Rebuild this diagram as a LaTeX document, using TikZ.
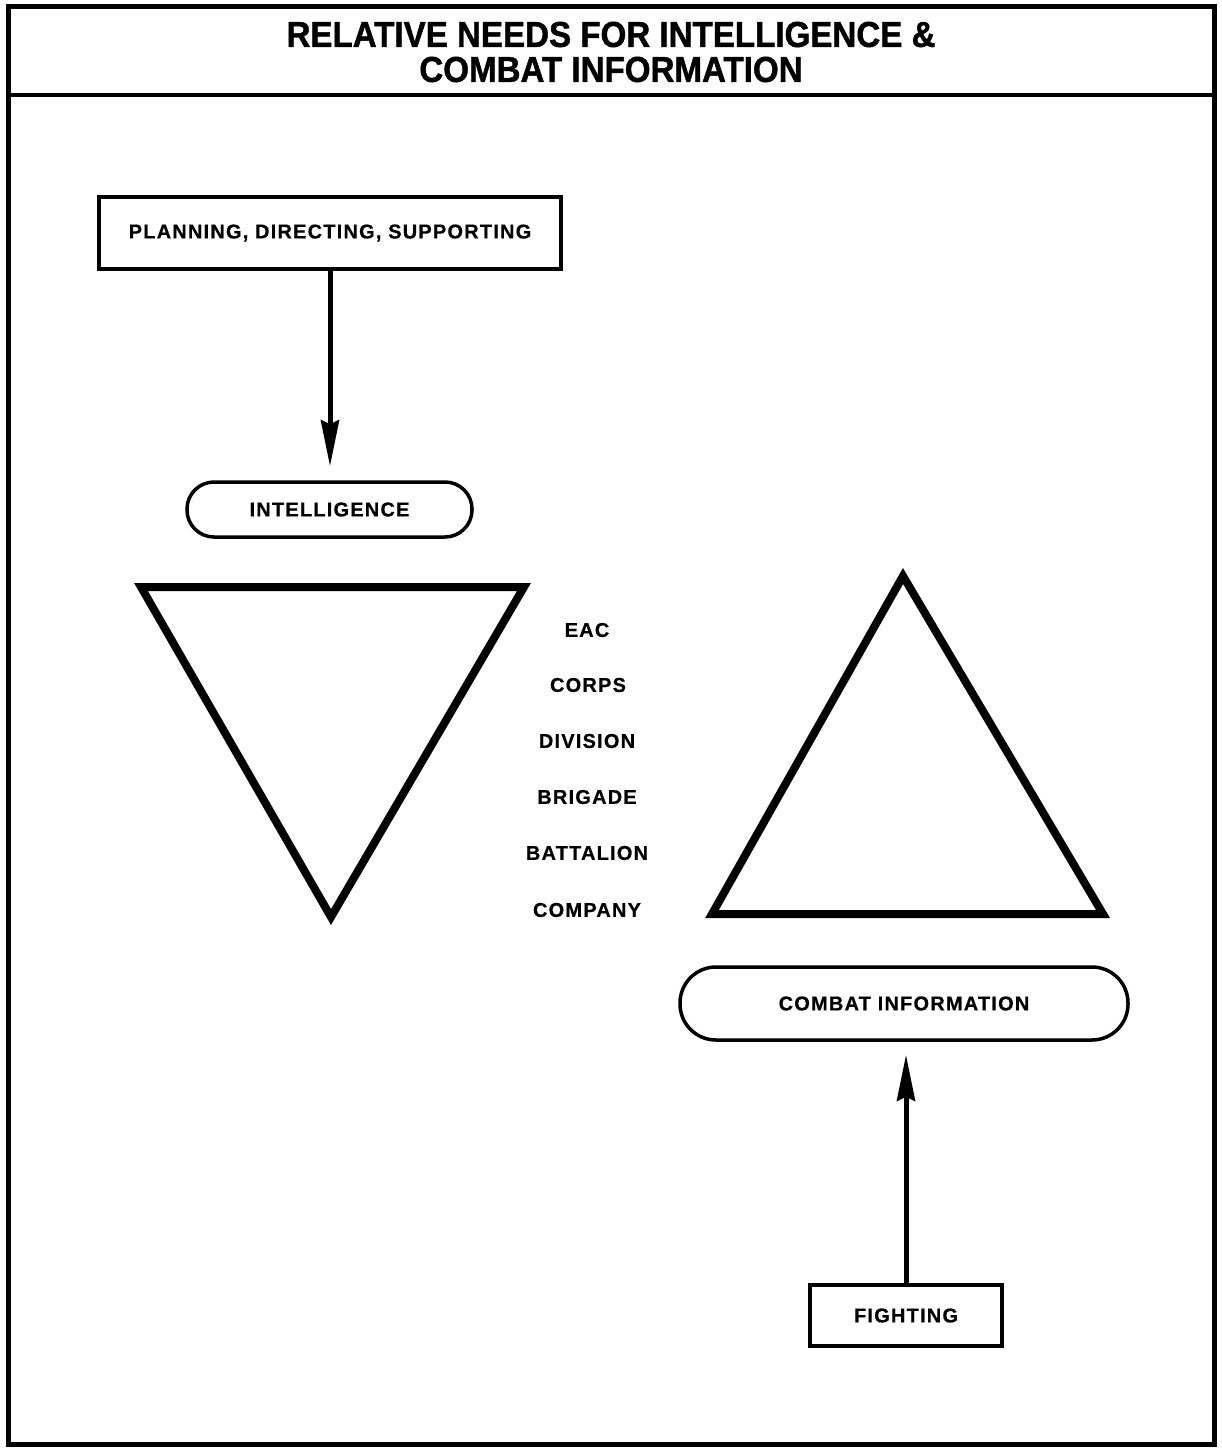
\documentclass[tikz,border=0pt]{standalone}
\usepackage{fontspec}
\setmainfont{Liberation Sans}
\newfontfamily\lblfont[LetterSpace=6,FakeBold=0.5]{Liberation Sans Bold}
\newfontfamily\titlefont[FakeStretch=0.92,FakeBold=1.2]{Liberation Sans Bold}
\usetikzlibrary{arrows.meta}
\tikzset{
  frameline/.style={line width=5pt},
  sqbox/.style={draw, line width=3.5pt, inner sep=0pt, font=\lblfont\fontsize{20}{22}\selectfont},
  pill/.style={draw, line width=3.5pt, inner sep=0pt, font=\lblfont\fontsize{20}{22}\selectfont},
  lvl/.style={inner sep=0pt, font=\lblfont\fontsize{20}{22}\selectfont},
  titletext/.style={align=center, inner sep=0pt, font=\titlefont\fontsize{36}{35}\selectfont},
  tri/.style={line width=8pt, line join=miter},
  arr/.style={line width=5pt, -{Stealth[length=46pt,width=18pt,inset=4pt]}}
}
\begin{document}
\begin{tikzpicture}[x=1pt,y=-1pt]
\useasboundingbox (0,0) rectangle (1221,1448);
\fill[white] (0,0) rectangle (1221,1448);
% frame
\draw[frameline] (8,6) rectangle (1214,1444);
\draw[line width=4pt] (8,95) -- (1214,95);
\node[titletext] (title) at (611,52) {RELATIVE NEEDS FOR INTELLIGENCE \&\\COMBAT INFORMATION};
% boxes
\node[sqbox, minimum width=462pt, minimum height=72pt] (plan) at (330,233) {PLANNING, DIRECTING, SUPPORTING};
\node[pill, rounded corners=27pt, minimum width=285pt, minimum height=55pt] (intel) at (329.5,509.5) {INTELLIGENCE};
\node[pill, rounded corners=36pt, minimum width=448pt, minimum height=73pt] (combat) at (904,1003.5) {COMBAT INFORMATION};
\node[sqbox, minimum width=192pt, minimum height=61pt] (fight) at (906,1315.5) {FIGHTING};
% arrows
\draw[arr, shorten >=14pt] (plan.south) -- (plan.south |- intel.north);
\draw[arr, shorten >=13pt] (fight.north) -- (fight.north |- combat.south);
% triangles
\draw[tri] (141,587) -- (524,587) -- (331,917) -- cycle;
\draw[tri] (903,576) -- (1103,914) -- (712,914) -- cycle;
% levels
\node[lvl] (eac) at (587,630) {EAC};
\node[lvl] (corps) at (588,685) {CORPS};
\node[lvl] (division) at (587,741) {DIVISION};
\node[lvl] (brigade) at (587,797) {BRIGADE};
\node[lvl] (battalion) at (587,853) {BATTALION};
\node[lvl] (company) at (587,910) {COMPANY};
\end{tikzpicture}
\end{document}
